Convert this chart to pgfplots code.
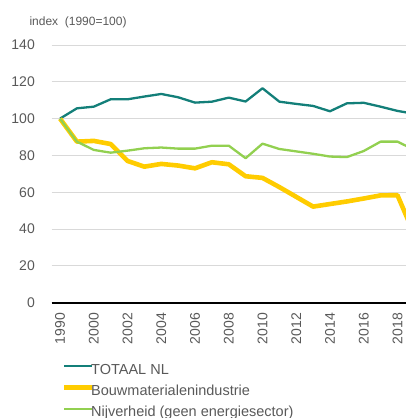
\documentclass[border=0pt]{standalone}
\usepackage{fontspec}
\setmainfont{Liberation Sans}
\usepackage{pgfplots}
\pgfplotsset{compat=1.18}
\definecolor{cbsteal}{HTML}{137F79}
\definecolor{cbsyellow}{HTML}{FFCC00}
\definecolor{cbsgreen}{HTML}{92D050}
\definecolor{txtgray}{HTML}{595959}
\definecolor{gridgray}{HTML}{D9D9D9}
\begin{document}
\begin{tikzpicture}
\useasboundingbox (0,0) rectangle (406bp,418bp);
\node[anchor=base west, inner sep=0pt, text=txtgray, font=\fontsize{12bp}{14bp}\selectfont] at (29.3bp,392bp) {index\ \ (1990=100)};
\begin{axis}[
  at={(51.6bp,115.3bp)}, anchor=south west,
  scale only axis, width=354.3bp, height=257.7bp,
  xmin=-0.5, xmax=20.5, ymin=0, ymax=140,
  xtick={0,2,...,20},
  xticklabels={1990,2000,2002,2004,2006,2008,2010,2012,2014,2016,2018},
  ytick={0,20,...,140},
  ymajorgrids, major grid style={gridgray, line width=0.9bp},
  axis x line*=bottom, axis y line*=left,
  x axis line style={-, black, line width=2.2bp},
  y axis line style={draw=none},
  major tick length=0pt,
  /pgf/number format/assume math mode=true,
  tick label style={text=txtgray, font=\fontsize{14bp}{16bp}\selectfont},
  yticklabel style={inner sep=0pt, anchor=east, xshift=-16.6bp},
  xticklabel style={inner sep=0pt, yshift=-10.3bp, rotate=90, anchor=east},
  legend style={at={(axis description cs:0.0285,-0.234)}, anchor=north west,
    draw=none, fill=none, inner sep=0pt, row sep=7.3bp, column sep=-3.6bp,
    nodes={inner sep=0pt, text height=11bp, text depth=3bp, text=txtgray,
      font=\fontsize{14.5bp}{16bp}\selectfont}},
  legend cell align=left,
  legend image code/.code={\draw[#1] (0bp,4bp) -- (28.3bp,4bp);},
  line join=round,
]
\addplot[cbsteal, line width=2.3bp] coordinates {
(0,100) (1,105.6) (2,106.5) (3,110.5) (4,110.5) (5,112) (6,113.4) (7,111.6)
(8,108.7) (9,109.2) (10,111.4) (11,109.3) (12,116.5) (13,109.2) (14,108)
(15,106.9) (16,104) (17,108.3) (18,108.6) (19,106.5) (20,104.2) (21,102.6)};
\addlegendentry{TOTAAL NL}
\addplot[cbsyellow, line width=4.6bp] coordinates {
(0,100) (1,87.5) (2,87.9) (3,86.2) (4,77) (5,73.9) (6,75.4) (7,74.5)
(8,73) (9,76.3) (10,75.2) (11,68.7) (12,67.8) (13,62.8) (14,57.5)
(15,52.2) (16,53.6) (17,55) (18,56.6) (19,58.3) (20,58.4) (21,37)};
\addlegendentry{Bouwmaterialenindustrie}
\addplot[cbsgreen, line width=2.3bp] coordinates {
(0,100) (1,87.5) (2,83) (3,81.5) (4,82.6) (5,83.9) (6,84.3) (7,83.7)
(8,83.7) (9,85.3) (10,85.3) (11,78.5) (12,86.4) (13,83.5) (14,82.2)
(15,80.9) (16,79.4) (17,79.1) (18,82.4) (19,87.5) (20,87.5) (21,83)};
\addlegendentry{Nijverheid (geen energiesector)}
\end{axis}
\end{tikzpicture}
\end{document}
